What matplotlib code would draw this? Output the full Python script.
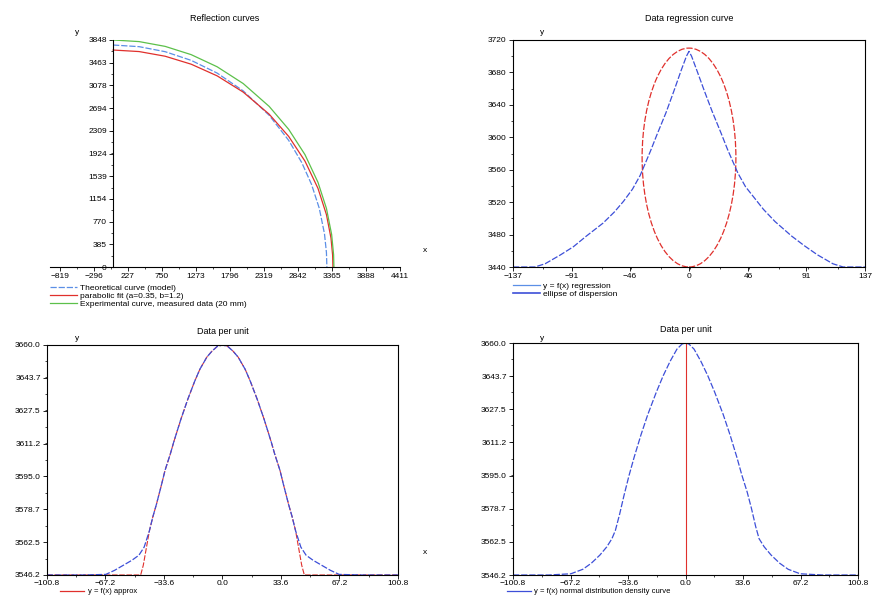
import matplotlib
matplotlib.use("Agg")
import matplotlib.pyplot as plt
from matplotlib.patches import Ellipse
from matplotlib.lines import Line2D
from matplotlib.ticker import AutoMinorLocator

# ---- panel 1 : reflection curves
refl_green_x = [0, 400, 800, 1200, 1600, 2000, 2400, 2700, 2950, 3150, 3280, 3360, 3390, 3395]
refl_green_y = [3848, 3821, 3740, 3600, 3394, 3110, 2722, 2333, 1905, 1435, 993, 551, 209, 0]
refl_blue_x = [0, 400, 800, 1200, 1600, 2000, 2400, 2700, 2900, 3050, 3170, 3250, 3280, 3287]
refl_blue_y = [3763, 3735, 3650, 3503, 3287, 2986, 2571, 2146, 1771, 1403, 995, 563, 245, 0]
refl_red_x = [0, 400, 800, 1200, 1600, 2000, 2400, 2700, 2950, 3150, 3280, 3350, 3375, 3380]
refl_red_y = [3678, 3652, 3573, 3438, 3240, 2965, 2590, 2213, 1795, 1333, 888, 489, 200, 0]
refl_xticks = [-819, -296, 227, 750, 1273, 1796, 2319, 2842, 3365, 3888, 4411]
refl_yticks = [0, 385, 770, 1154, 1539, 1924, 2309, 2694, 3078, 3463, 3848]

# ---- panel 2 : regression curve + ellipse
regr_x = [-137, -120, -112, -100, -90, -80, -67, -58, -51, -44, -38, -30, -25, -18,
          -12, -6, -2, 0, 2, 6, 12, 18, 25, 30, 38, 44, 51, 58, 67, 80, 90, 100,
          112, 120, 137]
regr_y = [3440, 3440, 3444, 3455, 3465, 3478, 3494, 3508, 3521, 3536, 3553, 3583, 3603, 3630,
          3656, 3683, 3700, 3706, 3700, 3683, 3657, 3632, 3605, 3585, 3556, 3539, 3525, 3511,
          3496, 3478, 3466, 3455, 3444, 3440, 3440]
ellipse_center = (0, 3575)
ellipse_size = (73, 270)
regr_xticks = [-137, -91, -46, 0, 46, 91, 137]
regr_yticks = [3440, 3480, 3520, 3560, 3600, 3640, 3680, 3720]

# ---- panel 3 : distribution, blue and truncated red
dist1_x = [-100.8, -80, -67, -62, -57, -52, -48, -45, -42, -40, -38, -35, -33, -30, -28,
           -24, -20, -16, -13, -9, -6, -3, 0, 3, 6, 9, 13, 16, 20, 24, 28, 30, 33, 35,
           38, 40, 42, 45, 48, 52, 57, 62, 67, 80, 100.8]
dist1_y = [3546.2, 3546.2, 3546.5, 3548.5, 3551, 3553.5, 3556, 3560, 3568, 3575, 3581,
           3591, 3598, 3606, 3612, 3623, 3633, 3642, 3648, 3654, 3657, 3659.3, 3660,
           3659.3, 3657, 3654, 3648, 3642, 3633, 3623, 3612, 3606, 3598, 3591, 3581,
           3575, 3568, 3560, 3556, 3553.5, 3551, 3548.5, 3546.5, 3546.2, 3546.2]
dist1_red_x = [-100.8, -47, -45.5, -42, -40, -38, -35, -33, -30, -28, -24, -20, -16, -13,
               -9, -6, -3, 0, 3, 6, 9, 13, 16, 20, 24, 28, 30, 33, 35, 38, 40, 42, 45.5,
               47, 100.8]
dist1_red_y = [3546.2, 3546.2, 3551, 3568, 3575, 3581, 3591, 3598, 3606, 3612, 3623, 3633,
               3642, 3648, 3654, 3657, 3659.3, 3660, 3659.3, 3657, 3654, 3648, 3642, 3633,
               3623, 3612, 3606, 3598, 3591, 3581, 3575, 3568, 3551, 3546.2, 3546.2]

# ---- panel 4 : distribution with centre line
dist2_x = [-100.8, -80, -67, -60, -55, -50, -46, -43, -41, -38.5, -36, -33, -30, -26, -22,
           -17, -13, -9, -5, -2, 0, 2, 5, 9, 13, 17, 22, 26, 30, 33, 36, 38.5, 41, 43, 46,
           50, 55, 60, 67, 80, 100.8]
dist2_y = [3546.2, 3546.2, 3546.8, 3549, 3552, 3556, 3560, 3564, 3568, 3576, 3585, 3595,
           3604, 3615, 3625, 3636, 3644, 3651, 3657, 3659.5, 3660, 3659.5, 3657, 3651, 3644,
           3636, 3625, 3615, 3604, 3595, 3587, 3579, 3570, 3564, 3560, 3556, 3552, 3549,
           3546.8, 3546.2, 3546.2]
centre_x = 0

dist_xticks = [-100.8, -67.2, -33.6, 0.0, 33.6, 67.2, 100.8]
dist_yticks = [3546.2, 3562.5, 3578.7, 3595.0, 3611.2, 3627.5, 3643.7, 3660.0]

BLUE = "#3d4fd8"
LBLUE = "#5b8fe6"
RED = "#e0302c"
GREEN = "#5cc04a"
FS = 6
DASH = (0, (5, 1.5))


def px(x, y):
    # pixel position -> figure fraction
    return x / 885.0, 1 - y / 595.0


def style_ticks(ax, pad=1.5):
    ax.xaxis.set_minor_locator(AutoMinorLocator(2))
    ax.yaxis.set_minor_locator(AutoMinorLocator(2))
    ax.tick_params(which="major", direction="out", length=3, width=0.6, labelsize=FS, pad=1.5)
    ax.tick_params(axis="x", which="major", pad=pad)
    ax.tick_params(which="minor", direction="out", length=1.5, width=0.5)
    ax.tick_params(top=False, right=False, which="both")


def put_legend(fig, handles, labels, x, y, fs=FS):
    fig.legend(handles, labels, loc="upper left", bbox_to_anchor=px(x, y),
               frameon=False, fontsize=fs, handlelength=3.2, handletextpad=0.4,
               labelspacing=0.05, borderpad=0, borderaxespad=0)


fig = plt.figure(figsize=(8.85, 5.95), dpi=100)
plt.rcParams["font.family"] = ["Liberation Sans", "DejaVu Sans"]

# panel 1
ax1 = fig.add_axes([50 / 885, 1 - 267 / 595, 350 / 885, 227 / 595])
h_b, = ax1.plot(refl_blue_x, refl_blue_y, color=LBLUE, lw=0.9, ls=DASH)
h_r, = ax1.plot(refl_red_x, refl_red_y, color=RED, lw=0.9)
h_g, = ax1.plot(refl_green_x, refl_green_y, color=GREEN, lw=0.9)
ax1.set_xlim(-970, 4411)
ax1.set_ylim(0, 3848)
ax1.spines["left"].set_position(("data", 0))
ax1.spines["bottom"].set_position(("data", 0))
ax1.spines["top"].set_visible(False)
ax1.spines["right"].set_visible(False)
for s in ax1.spines.values():
    s.set_linewidth(0.8)
ax1.set_xticks(refl_xticks)
ax1.set_yticks(refl_yticks)
style_ticks(ax1)
ax1.set_title("Reflection curves", fontsize=FS + 0.5, pad=14)
put_legend(fig, [h_b, h_r, h_g],
           ["Theoretical curve (model)",
            "parabolic fit (a=0.35, b=1.2)",
            "Experimental curve, measured data (20 mm)"], 50, 284)

# panel 2
ax2 = fig.add_axes([513 / 885, 1 - 267 / 595, 352 / 885, 227 / 595])
ax2.plot(regr_x, regr_y, color=BLUE, lw=0.9, ls=DASH)
ax2.add_patch(Ellipse(ellipse_center, ellipse_size[0], ellipse_size[1], fill=False,
                      edgecolor=RED, lw=0.9, ls=DASH))
ax2.set_xlim(-137, 137)
ax2.set_ylim(3440, 3720)
ax2.set_xticks(regr_xticks)
ax2.set_yticks(regr_yticks)
style_ticks(ax2)
ax2.set_title("Data regression curve", fontsize=FS + 0.5, pad=14)
put_legend(fig, [Line2D([], [], color=LBLUE, lw=0.9), Line2D([], [], color=BLUE, lw=1.2)],
           ["y = f(x) regression", "ellipse of dispersion"], 513, 282)

# panel 3
ax3 = fig.add_axes([47 / 885, 1 - 575 / 595, 351 / 885, 230 / 595])
ax3.plot(dist1_red_x, dist1_red_y, color=RED, lw=0.8, ls=DASH)
ax3.plot(dist1_x, dist1_y, color=BLUE, lw=0.9, ls=DASH)
ax3.set_xlim(-100.8, 100.8)
ax3.set_ylim(3546.2, 3660.0)
ax3.set_xticks(dist_xticks)
ax3.set_yticks(dist_yticks)
ax3.xaxis.set_major_formatter("{x:.1f}")
ax3.yaxis.set_major_formatter("{x:.1f}")
style_ticks(ax3, pad=0.8)
ax3.set_title("Data per unit", fontsize=FS + 0.5, pad=8)
put_legend(fig, [Line2D([], [], color=RED, lw=0.9)], ["y = f(x) approx"], 60, 588, FS - 0.5)

# panel 4
ax4 = fig.add_axes([513 / 885, 1 - 575 / 595, 345 / 885, 232 / 595])
ax4.plot(dist2_x, dist2_y, color=BLUE, lw=0.9, ls=DASH)
ax4.axvline(centre_x, color=RED, lw=0.8)
ax4.set_xlim(-100.8, 100.8)
ax4.set_ylim(3546.2, 3660.0)
ax4.set_xticks(dist_xticks)
ax4.set_yticks(dist_yticks)
ax4.xaxis.set_major_formatter("{x:.1f}")
ax4.yaxis.set_major_formatter("{x:.1f}")
style_ticks(ax4, pad=0.8)
ax4.set_title("Data per unit", fontsize=FS + 0.5, pad=8)
put_legend(fig, [Line2D([], [], color=BLUE, lw=0.9)],
           ["y = f(x) normal distribution density curve"], 507, 588, FS - 0.5)

# axis names as in the original plot
for (x, y, t) in [(77, 32, "y"), (425, 250, "x"), (542, 32, "y"),
                  (77, 338, "y"), (425, 553, "x"), (542, 338, "y")]:
    fx, fy = px(x, y)
    fig.text(fx, fy, t, fontsize=FS, ha="center", va="center")

fig.savefig("out.png", dpi=100)
